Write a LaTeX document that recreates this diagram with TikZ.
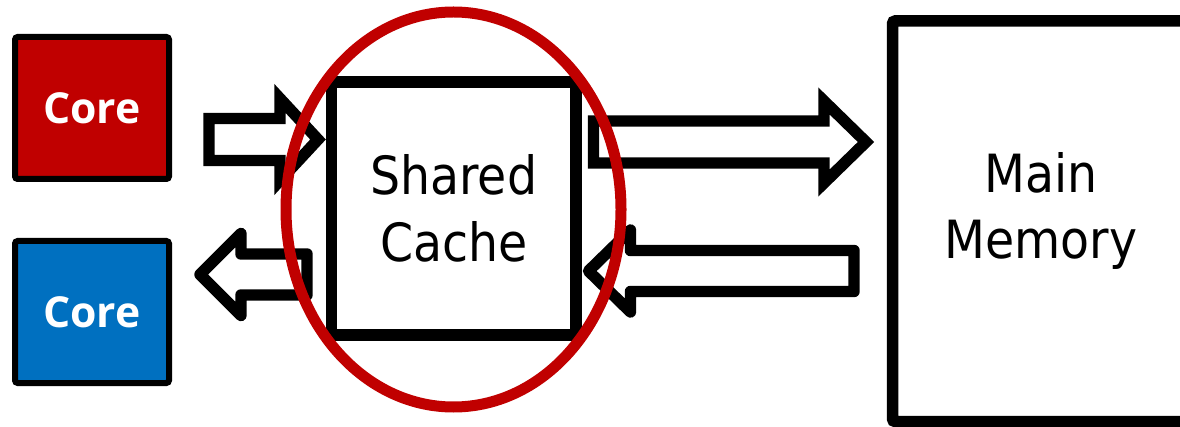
\documentclass[tikz,border=0pt]{standalone}
\usepackage{fontspec}
\newfontfamily\corefont{Open Sans}
\newfontfamily\boxfont{DejaVu Sans Condensed}
\usetikzlibrary{calc,shapes.geometric}
\definecolor{corered}{HTML}{C00000}
\definecolor{coreblue}{HTML}{0070C0}

% block arrow pointing right: tail midpoint #1, tip #2, head length #3
\newcommand{\flowright}[4][]{%
  \draw[flow,#1] ($(#2)+(0,-21)$) -- ($(#3)+(-#4,-21)$) -- ($(#3)+(-#4,-41)$)
    -- (#3) -- ($(#3)+(-#4,41)$) -- ($(#3)+(-#4,21)$) -- ($(#2)+(0,21)$) -- cycle;}
% block arrow pointing left: tail midpoint #1, tip #2, head length #3
\newcommand{\flowleft}[4][]{%
  \draw[flow,#1] ($(#2)+(0,-20.5)$) -- ($(#3)+(#4,-20.5)$) -- ($(#3)+(#4,-41)$)
    -- (#3) -- ($(#3)+(#4,41)$) -- ($(#3)+(#4,20.5)$) -- ($(#2)+(0,20.5)$) -- cycle;}

\begin{document}
\begin{tikzpicture}[x=0.75pt,y=-0.75pt,
  core/.style={draw=black, line width=4.5pt, rounded corners=2pt,
    minimum width=115.5pt, minimum height=106.5pt, inner sep=0pt, outer sep=0pt,
    text=white, font=\corefont\bfseries\fontsize{32}{38}\selectfont},
  unit/.style={draw=black, line width=8.6pt, fill=white, inner sep=0pt, outer sep=0pt,
    font=\boxfont\fontsize{39.5}{50}\selectfont, align=center},
  flow/.style={draw=black, line width=8.6pt, fill=white},
  focus/.style={draw=corered, line width=8.25pt, ellipse, inner sep=0pt,
    minimum width=251.25pt, minimum height=296.25pt}]
\useasboundingbox (0,0) rectangle (1180,427);

% processor cores
\node[core, fill=corered]  (core1) at (92,108) {Core};
\node[core, fill=coreblue] (core2) at (92,312) {Core};

% shared cache and main memory
\node[unit, minimum width=183.4pt, minimum height=189.75pt] (cache) at (453.75,208.5) {Shared\\Cache};
\node[unit, rounded corners=2pt, minimum width=223.1pt, minimum height=300.4pt] (mem) at (1041.25,221.25) {};
\node[font=\boxfont\fontsize{39.5}{50}\selectfont, align=center, inner sep=0pt] (memtext) at (1041,211) {Main\\Memory};

% data flow arrows
\coordinate (a1tail) at (209,139.5);  \coordinate (a1tip) at (318,139.5);
\coordinate (a2tail) at (307,274.5);  \coordinate (a2tip) at (200,274.5);
\coordinate (a3tail) at (593.5,142);  \coordinate (a3tip) at (866,142);
\coordinate (a4tail) at (854,271);    \coordinate (a4tip) at (588.5,271);
\flowright{a1tail}{a1tip}{38}
\flowleft[line join=round]{a2tail}{a2tip}{41}
\flowright{a3tail}{a3tip}{42}
\flowleft[line join=round]{a4tail}{a4tip}{42}

% highlight around the cache
\node[focus] (ring) at (453.5,209.5) {};
\end{tikzpicture}
\end{document}
